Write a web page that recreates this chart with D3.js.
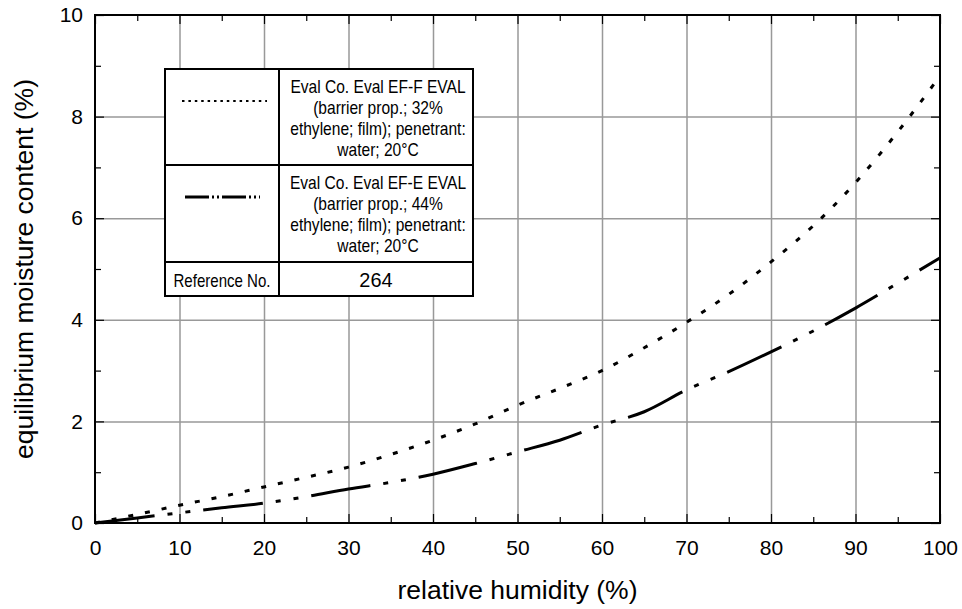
<!DOCTYPE html>
<html>
<head>
<meta charset="utf-8">
<script src="https://cdn.jsdelivr.net/npm/d3@7"></script>
<style>
  html, body { margin: 0; padding: 0; background: #fff; }
  svg { display: block; }
</style>
</head>
<body>
<svg id="chart" width="962" height="609"></svg>
<script>
// Relative humidity sample points (%)
const rh = [0, 5, 10, 15, 20, 25, 30, 35, 40, 45, 50, 55, 60, 65, 70, 75, 80, 85, 90, 95, 100];
// Equilibrium moisture content (%) – EF-F grade, 32% ethylene
const efF = [0, 0.17, 0.35, 0.52, 0.71, 0.9, 1.1, 1.35, 1.63, 1.95, 2.32, 2.65, 3.0, 3.45, 3.95, 4.5, 5.14, 5.85, 6.7, 7.7, 8.8];
// Equilibrium moisture content (%) – EF-E grade, 44% ethylene
const efE = [0, 0.1, 0.2, 0.3, 0.39, 0.52, 0.67, 0.8, 0.96, 1.17, 1.4, 1.63, 1.93, 2.19, 2.62, 2.98, 3.37, 3.78, 4.23, 4.72, 5.22];

const xMajor = [0, 10, 20, 30, 40, 50, 60, 70, 80, 90, 100];
const xMinor = [5, 15, 25, 35, 45, 55, 65, 75, 85, 95];
const yMajor = [0, 2, 4, 6, 8, 10];
const yMinor = [1, 3, 5, 7, 9];

const legendRows = [
  { dash: "2.5,3.9", width: 2.2, lines: ["Eval Co. Eval EF-F EVAL", "(barrier prop.; 32%", "ethylene; film); penetrant:", "water; 20°C"] },
  { dash: "24,3,2,3,2,3", width: 3, lines: ["Eval Co. Eval EF-E EVAL", "(barrier prop.; 44%", "ethylene; film); penetrant:", "water; 20°C"] }
];
const referenceLabel = "Reference No.";
const referenceNo = "264";

const svg = d3.select("#chart");
const L = 95, R = 940, T = 15, B = 523;
const x = d3.scaleLinear().domain([0, 100]).range([L, R]);
const y = d3.scaleLinear().domain([0, 10]).range([B, T]);
const font = '"Liberation Sans", Arial, sans-serif';

// grid
svg.append("g").attr("transform", `translate(0,${B})`)
  .call(d3.axisBottom(x).tickValues(xMajor.slice(1, -1)).tickSize(-(B - T)).tickFormat(""))
  .call(g => g.select(".domain").remove())
  .selectAll("line").attr("stroke", "#999").attr("stroke-width", 1.5);
svg.append("g").attr("transform", `translate(${L},0)`)
  .call(d3.axisLeft(y).tickValues(yMajor.slice(1, -1)).tickSize(-(R - L)).tickFormat(""))
  .call(g => g.select(".domain").remove())
  .selectAll("line").attr("stroke", "#999").attr("stroke-width", 1.5);

// inward ticks on all four sides
function ticks(axisFn, scale, pos, values, size) {
  svg.append("g").attr("transform", pos)
    .call(axisFn(scale).tickValues(values).tickSize(size).tickFormat(""))
    .call(g => g.select(".domain").remove())
    .selectAll("line").attr("stroke", "#000").attr("stroke-width", 1.2);
}
ticks(d3.axisBottom, x, `translate(0,${B})`, xMinor, -6);
ticks(d3.axisBottom, x, `translate(0,${B})`, xMajor, -9);
ticks(d3.axisTop, x, `translate(0,${T})`, xMinor, -6);
ticks(d3.axisTop, x, `translate(0,${T})`, xMajor, -9);
ticks(d3.axisLeft, y, `translate(${L},0)`, yMinor, -6);
ticks(d3.axisLeft, y, `translate(${L},0)`, yMajor, -9);
ticks(d3.axisRight, y, `translate(${R},0)`, yMinor, -6);
ticks(d3.axisRight, y, `translate(${R},0)`, yMajor, -9);

// tick labels
svg.append("g").attr("transform", `translate(0,${B})`)
  .call(d3.axisBottom(x).tickValues(xMajor).tickSize(0).tickPadding(17))
  .call(g => g.select(".domain").remove())
  .selectAll("text").attr("font-size", 21).attr("fill", "#000").attr("font-family", font);
svg.append("g").attr("transform", `translate(${L},0)`)
  .call(d3.axisLeft(y).tickValues(yMajor).tickSize(0).tickPadding(12))
  .call(g => g.select(".domain").remove())
  .selectAll("text").attr("font-size", 21).attr("fill", "#000").attr("font-family", font);

// frame
svg.append("rect").attr("x", L).attr("y", T).attr("width", R - L).attr("height", B - T)
  .attr("fill", "none").attr("stroke", "#000").attr("stroke-width", 2);

// curves
const line = d3.line().x(d => x(d[0])).y(d => y(d[1])).curve(d3.curveMonotoneX);
svg.append("path").datum(rh.map((v, i) => [v, efF[i]]))
  .attr("d", line).attr("fill", "none").attr("stroke", "#000")
  .attr("stroke-width", 3).attr("stroke-dasharray", "5,12");
svg.append("path").datum(rh.map((v, i) => [v, efE[i]]))
  .attr("d", line).attr("fill", "none").attr("stroke", "#000")
  .attr("stroke-width", 3).attr("stroke-dasharray", "60,13,5,13,5,13");

// axis titles
svg.append("text").attr("x", (L + R) / 2).attr("y", 599).attr("text-anchor", "middle")
  .attr("font-family", font).attr("font-size", 26.5).text("relative humidity (%)");
svg.append("text").attr("transform", `translate(33,${(T + B) / 2}) rotate(-90)`)
  .attr("text-anchor", "middle").attr("font-family", font).attr("font-size", 26.5)
  .text("equilibrium moisture content (%)");

// legend table
const lg = svg.append("g");
const lx0 = 165, lx1 = 279, lx2 = 473;
const rowY = [69, 165, 262, 296];
lg.append("rect").attr("x", lx0).attr("y", rowY[0]).attr("width", lx2 - lx0).attr("height", rowY[3] - rowY[0])
  .attr("fill", "#fff").attr("stroke", "#000").attr("stroke-width", 2);
lg.append("line").attr("x1", lx1).attr("x2", lx1).attr("y1", rowY[0]).attr("y2", rowY[3])
  .attr("stroke", "#000").attr("stroke-width", 2);
[rowY[1], rowY[2]].forEach(v => lg.append("line").attr("x1", lx0).attr("x2", lx2)
  .attr("y1", v).attr("y2", v).attr("stroke", "#000").attr("stroke-width", 2));

// condensed text helper
function narrowText(cx, cy, str, size, sx) {
  lg.append("text").attr("transform", `translate(${cx},${cy}) scale(${sx},1)`)
    .attr("text-anchor", "middle").attr("font-family", font).attr("font-size", size).text(str);
}

legendRows.forEach((r, i) => {
  const top = rowY[i];
  const sy = i === 0 ? 101 : 197;
  lg.append("line").attr("x1", i === 0 ? 182 : 185).attr("x2", i === 0 ? 267 : 260)
    .attr("y1", sy).attr("y2", sy)
    .attr("stroke", "#000").attr("stroke-width", r.width).attr("stroke-dasharray", r.dash);
  r.lines.forEach((s, k) => narrowText(378, top + 23.8 + k * 20.9, s, 17.5, 0.89));
});
narrowText((lx0 + lx1) / 2, 287, referenceLabel, 17.5, 0.86);
narrowText((lx1 + lx2) / 2, 287, referenceNo, 21, 0.95);
</script>
</body>
</html>
